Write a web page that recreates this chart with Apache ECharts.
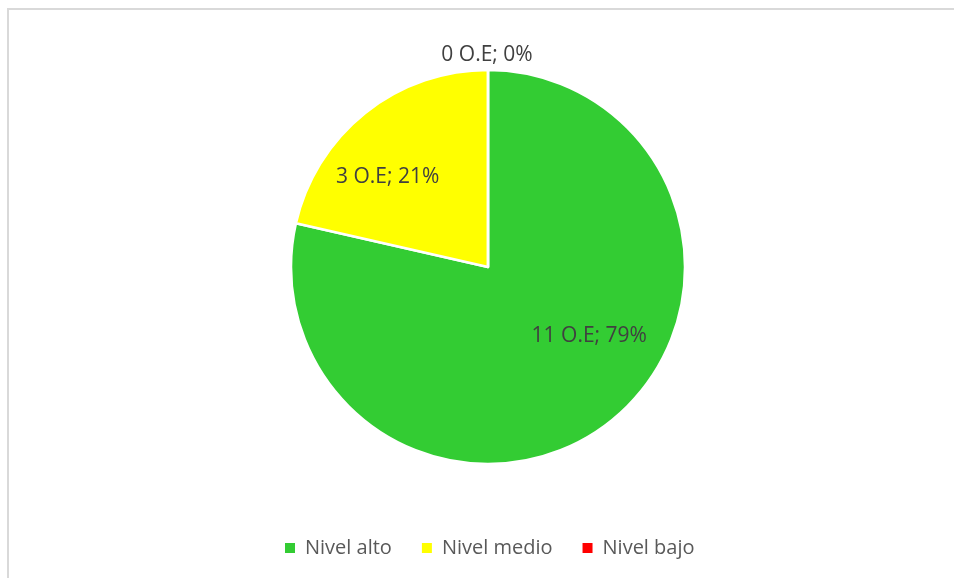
<!DOCTYPE html>
<html>
<head>
<meta charset="utf-8">
<script src="https://cdn.jsdelivr.net/npm/echarts@6/dist/echarts.min.js"></script>
<style>
  html, body { margin: 0; padding: 0; background: #fff; }
  #chart { width: 954px; height: 578px; }
</style>
</head>
<body>
<div id="chart"></div>
<script>
// datos
const categorias = ['Nivel alto', 'Nivel medio', 'Nivel bajo'];
const valores = [11, 3, 0];
const colores = ['#33CC33', '#FFFF00', '#FF0000'];
// desplazamiento de cada etiqueta respecto a la posición por defecto
const ajusteEtiqueta = [[38, -10], [-37, -11], [34, 0]];

const myChart = echarts.init(document.getElementById('chart'));
const fuente = '"Open Sans", "Noto Sans", sans-serif';

let option = {
  animation: false,
  graphic: [{
    type: 'rect',
    shape: { x: 8, y: 9, width: 960, height: 600 },
    style: { fill: 'none', stroke: '#d9d9d9', lineWidth: 2 },
    silent: true
  }],
  legend: {
    bottom: 15,
    left: 278,
    itemWidth: 12,
    itemHeight: 12,
    itemGap: 28,
    icon: 'rect',
    textStyle: { color: '#595959', fontSize: 20, fontFamily: fuente, padding: [0, 0, 0, 4] },
    data: categorias
  },
  series: [{
    type: 'pie',
    center: [488, 267],
    radius: [0, 197],
    startAngle: 90,
    clockwise: true,
    avoidLabelOverlap: false,
    itemStyle: { borderColor: '#fff', borderWidth: 2.5 },
    label: {
      position: 'inside',
      color: '#404040',
      fontSize: 21,
      fontFamily: fuente,
      formatter: function (p) {
        return p.value + ' O.E; ' + Math.round(p.percent) + '%';
      }
    },
    labelLine: { show: false },
    labelLayout: function (p) {
      const a = ajusteEtiqueta[p.dataIndex];
      let r = { dx: a[0], dy: a[1] };
      if (valores[p.dataIndex] === 0) r.align = 'center';
      return r;
    },
    data: categorias.map(function (c, i) {
      let item = { name: c, value: valores[i], itemStyle: { color: colores[i] } };
      if (valores[i] === 0) {
        item.label = { position: 'outside' };
      }
      return item;
    })
  }]
};
myChart.setOption(option);
</script>
</body>
</html>
